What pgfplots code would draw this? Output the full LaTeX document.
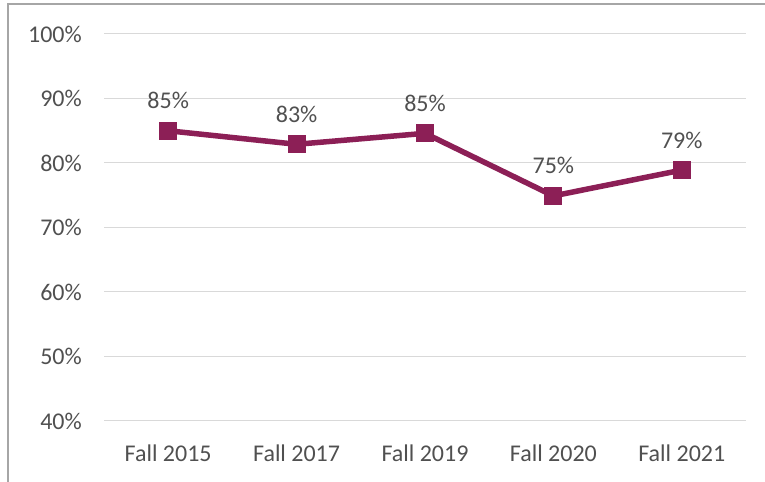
\documentclass[border=0pt]{standalone}
\usepackage{fontspec}
\setmainfont{Carlito}
\usepackage{pgfplots}
\pgfplotsset{compat=1.18}
\definecolor{lineC}{HTML}{8C1F56}
\definecolor{gridC}{HTML}{D9D9D9}
\definecolor{txtC}{HTML}{505050}
\definecolor{frameC}{HTML}{A6A6A6}
\begin{document}
\fontsize{24bp}{28bp}\selectfont
\begin{tikzpicture}
\useasboundingbox (0,0) rectangle (765bp,482bp);
\draw[frameC, line width=1.2bp] (8bp,0) -- (8bp,478bp) -- (766bp,478bp);
\begin{axis}[
    at={(104bp,61bp)}, anchor=south west,
    scale only axis,
    width=642bp, height=387bp,
    xmin=-0.5, xmax=4.5,
    ymin=40, ymax=100,
    ytick={40,50,60,70,80,90,100},
    yticklabel={\pgfmathprintnumber{\tick}\%},
    xtick={0,1,2,3,4},
    xticklabels={Fall 2015, Fall 2017, Fall 2019, Fall 2020, Fall 2021},
    ymajorgrids,
    grid style={gridC, line width=1bp},
    axis line style={draw=none},
    major tick length=0pt,
    tick label style={font=\fontsize{24bp}{28bp}\selectfont, text=txtC},
    yticklabel style={xshift=-14bp},
    xticklabel style={yshift=-16bp},
    /pgf/number format/assume math mode=true,
    nodes near coords={\pgfmathprintnumber[fixed,precision=0]{\pgfplotspointmeta}\%},
    every node near coord/.append style={anchor=center, yshift=30bp, text=txtC, font=\fontsize{24bp}{28bp}\selectfont},
    point meta=y,
    clip=false,
]
\addplot[color=lineC, line width=5.5bp, mark=square*, mark size=8.5bp, mark options={fill=lineC, line width=0pt}] coordinates {
(0, 85.0)
(1, 82.9)
(2, 84.6)
(3, 74.9)
(4, 78.9)
};
\end{axis}
\end{tikzpicture}
\end{document}
